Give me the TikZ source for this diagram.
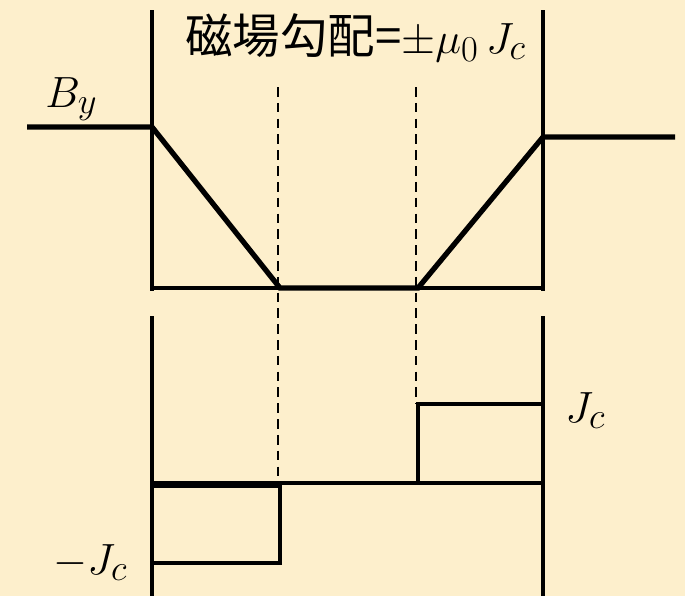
\documentclass[tikz,border=0pt]{standalone}
\usepackage{fontspec}
\newfontfamily\cjk{Noto Sans CJK JP}
\usetikzlibrary{positioning}
\definecolor{figFondo}{RGB}{253,239,204}
\tikzset{
  trazo/.style={line width=2.7pt, draw=black},
  curva/.style={line width=3pt, draw=black, line join=miter},
  guia/.style={line width=0.9pt, draw=black, dash pattern=on 5.5pt off 3.5pt},
  etiqueta/.style={font=\fontsize{29}{32}\selectfont, inner sep=0pt, anchor=base west}
}

\begin{document}
\begin{tikzpicture}[x=0.02cm, y=-0.02cm]
  \fill[figFondo] (0,0) rectangle (685,596);
  \useasboundingbox (0,0) rectangle (685,596);

  % panel superior
  \coordinate (supIzqA) at (152,10);
  \coordinate (supIzqB) at (152,291);
  \coordinate (supDerA) at (543,10);
  \coordinate (supDerB) at (543,291);
  \draw[trazo] (supIzqA) -- (supIzqB);
  \draw[trazo] (supDerA) -- (supDerB);
  \draw[trazo] (152,288) -- (543,288);
  \draw[curva] (27,127) -- (152,127) -- (280,288) -- (418,288) -- (543,137) -- (675,137);

  % panel inferior
  \coordinate (infIzqA) at (152,316);
  \coordinate (infIzqB) at (152,596);
  \coordinate (infDerA) at (543,316);
  \coordinate (infDerB) at (543,596);
  \draw[trazo] (infIzqA) -- (infIzqB);
  \draw[trazo] (infDerA) -- (infDerB);
  \draw[trazo] (152,483) -- (543,483);
  \draw[trazo] (152,486) rectangle (280,563);
  \draw[trazo] (418,404) rectangle (543,483);

  % guias
  \draw[guia] (278,87) -- (278,482);
  \draw[guia] (416,87) -- (416,404);

  \node[etiqueta, font=\fontsize{27}{30}\selectfont] (titulo) at (185,53)
    {{\cjk 磁場勾配=}{\fontsize{31}{34}\selectfont$\pm\mu_0\,J_c$}};
  \node[etiqueta] (campo) at (45,107) {$B_y$};
  \node[etiqueta] (jpos) at (565,422) {$J_c$};
  \node[etiqueta] (jneg) at (53,574) {$-J_c$};
\end{tikzpicture}
\end{document}
